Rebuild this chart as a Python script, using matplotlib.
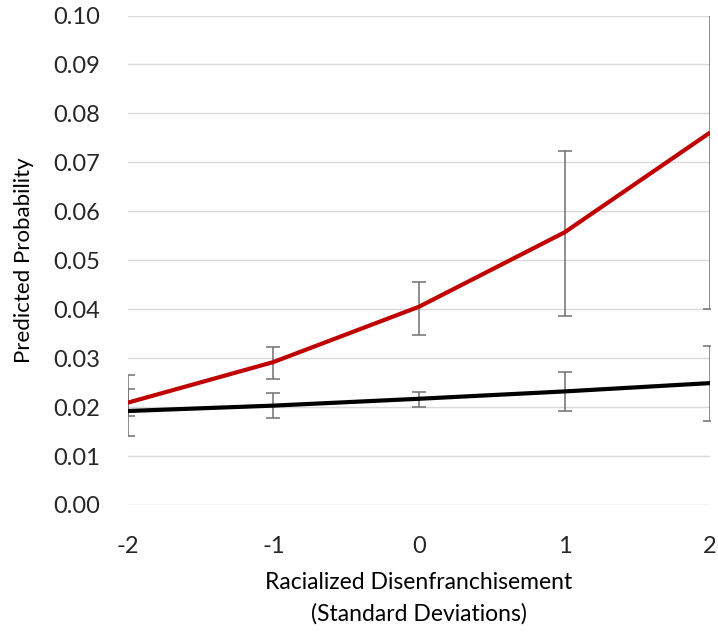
import numpy as np
import matplotlib
matplotlib.use('Agg')
import matplotlib.pyplot as plt

# values
x_sd = [-2, -1, 0, 1, 2]
red_prob = [0.0209, 0.0292, 0.0405, 0.0557, 0.0761]
red_low = [0.0182, 0.0258, 0.0348, 0.0387, 0.0401]
red_high = [0.0237, 0.0322, 0.0456, 0.0724, 0.112]
black_prob = [0.0192, 0.0203, 0.0217, 0.0232, 0.0249]
black_low = [0.0141, 0.0177, 0.0200, 0.0193, 0.0172]
black_high = [0.0266, 0.0228, 0.0231, 0.0272, 0.0324]
y_ticks = [0.00, 0.01, 0.02, 0.03, 0.04, 0.05, 0.06, 0.07, 0.08, 0.09, 0.10]

plt.rcParams['font.family'] = ['Lato', 'DejaVu Sans']
plt.rcParams['text.color'] = '#262626'

fig = plt.figure(figsize=(7.18, 6.34), dpi=100)
ax = fig.add_axes([0.178, 0.2035, 0.811, 0.772])

red_prob = np.array(red_prob)
black_prob = np.array(black_prob)
red_err = [red_prob - np.array(red_low), np.array(red_high) - red_prob]
black_err = [black_prob - np.array(black_low), np.array(black_high) - black_prob]

ax.errorbar(x_sd, red_prob, yerr=red_err, fmt='none', ecolor='#707070',
            elinewidth=1.1, capsize=5, capthick=1.1, zorder=2)
ax.errorbar(x_sd, black_prob, yerr=black_err, fmt='none', ecolor='#707070',
            elinewidth=1.1, capsize=5, capthick=1.1, zorder=2)
ax.plot(x_sd, red_prob, color='#c00000', lw=3, zorder=3, solid_capstyle='butt')
ax.plot(x_sd, black_prob, color='black', lw=3, zorder=3, solid_capstyle='butt')

ax.set_xlim(-2, 2)
ax.set_ylim(0, 0.10)
ax.set_xticks(x_sd)
ax.set_xticklabels([str(v) for v in x_sd])
ax.set_yticks(y_ticks)
ax.set_yticklabels(['%.2f' % v for v in y_ticks])
ax.tick_params(axis='both', length=0, labelsize=17, colors='#262626')
ax.tick_params(axis='y', pad=20)
ax.tick_params(axis='x', pad=22)

for s in ax.spines.values():
    s.set_visible(False)
ax.grid(axis='y', color='#d9d9d9', lw=1)
ax.set_axisbelow(True)

ax.set_ylabel('Predicted Probability', fontsize=16, labelpad=14)
ax.set_xlabel('Racialized Disenfranchisement\n(Standard Deviations)', fontsize=16.5,
              labelpad=11, linespacing=1.6)

fig.savefig('out.png', dpi=100)
